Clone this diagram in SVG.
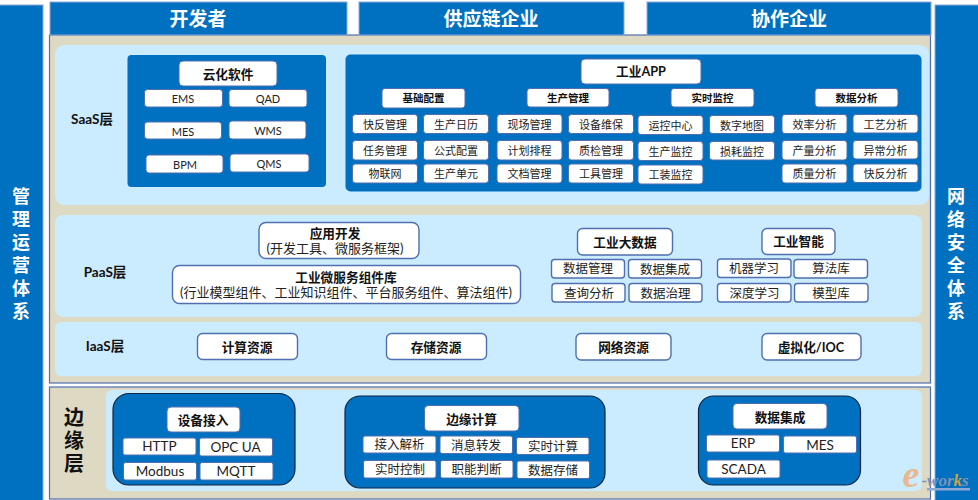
<svg xmlns="http://www.w3.org/2000/svg" width="978" height="500" viewBox="0 0 978 500">
<style>
text{font-family:"Lato","Noto Sans CJK SC",sans-serif;text-anchor:middle;dominant-baseline:central;fill:#111}
.bar{fill:#0070C0;stroke:#8FA9D6;stroke-width:1}
.t{fill:#fff;font-weight:700;font-size:19px}
.v{fill:#fff;font-weight:700;font-size:18px}
.frame{fill:#DDD9C3;stroke:#4F6FB0;stroke-width:1.2}
.panel{fill:#CBEBFE}
.dark{fill:#0070C0}
.darkb{fill:#0070C0;stroke:#10253F;stroke-width:1.2}
.w{fill:#fff;stroke:#4F6FB0;stroke-width:1}
.o{fill:#fff;stroke:#4F6FB0;stroke-width:1.4}
.b{font-weight:700;font-size:12.700px}
.h{font-weight:700;font-size:10.500px}
.c{font-size:11px;fill:#222}
.m{font-size:12.500px;fill:#222}
.n{font-size:13.500px;fill:#222}
.s{font-size:13px;fill:#222}
.l{font-weight:700;font-size:13.500px}
.big{font-weight:700;font-size:20px}
.we{font-family:"Liberation Serif",serif;font-style:italic;font-weight:700;font-size:38px;fill:#E8B88F}
.ww{font-family:"Liberation Serif",serif;font-style:italic;font-weight:700;font-size:17px;fill:#7F93B8}
</style>
<rect width="978" height="500" fill="#fff"/>
<g id="side-left"><rect class="bar" x="-1" y="5" width="44" height="496"/><text class="v" x="21" y="196">管</text><text class="v" x="21" y="219">理</text><text class="v" x="21" y="242">运</text><text class="v" x="21" y="265">营</text><text class="v" x="21" y="288">体</text><text class="v" x="21" y="311">系</text></g>
<g id="side-right"><rect class="bar" x="935" y="5" width="44" height="496"/><text class="v" x="956" y="196">网</text><text class="v" x="956" y="219">络</text><text class="v" x="956" y="242">安</text><text class="v" x="956" y="265">全</text><text class="v" x="956" y="288">体</text><text class="v" x="956" y="311">系</text></g>
<g id="main-frame"><rect class="frame" x="49.500" y="35" width="881" height="348"/></g>
<g id="top-dev"><rect class="bar" x="50" y="2" width="297" height="33"/><text class="t" x="198" y="18">开发者</text></g>
<g id="top-supply"><rect class="bar" x="359" y="2" width="265" height="33"/><text class="t" x="491" y="18">供应链企业</text></g>
<g id="top-partner"><rect class="bar" x="647" y="2" width="284" height="33"/><text class="t" x="789" y="18">协作企业</text></g>

<g id="saas"><rect class="panel" x="55" y="45" width="874" height="160" rx="9"/><text class="l" x="92" y="119">SaaS层</text></g>
<g id="cloud"><rect class="dark" x="127.500" y="55" width="198.500" height="132" rx="4"/>
<rect class="w" x="179" y="61" width="98" height="25" rx="4"/><text class="b" x="228" y="74">云化软件</text></g>
<g id="c-ems"><rect class="w" x="144.500" y="89.500" width="78" height="17.500" rx="3"/><text class="c" x="183" y="98">EMS</text></g>
<g id="c-qad"><rect class="w" x="229" y="89.500" width="78" height="17.500" rx="3"/><text class="c" x="268" y="98">QAD</text></g>
<g id="c-mes"><rect class="w" x="144.500" y="122" width="77" height="17" rx="3"/><text class="c" x="183" y="131">MES</text></g>
<g id="c-wms"><rect class="w" x="229" y="121" width="77" height="18" rx="3"/><text class="c" x="268" y="130">WMS</text></g>
<g id="c-bpm"><rect class="w" x="146" y="155" width="77" height="18" rx="3"/><text class="c" x="185" y="164">BPM</text></g>
<g id="c-qms"><rect class="w" x="230" y="154" width="79" height="18" rx="3"/><text class="c" x="269" y="163">QMS</text></g>

<g id="app"><rect class="dark" x="345.500" y="54.500" width="576" height="137" rx="5"/>
<rect class="w" x="581" y="59" width="120" height="25" rx="4"/><text class="b" x="641" y="71">工业APP</text></g>
<g id="h-base"><rect class="w" x="382" y="88.500" width="83" height="19.500" rx="3"/><text class="h" x="423.500" y="98">基础配置</text></g>
<g id="h-prod"><rect class="w" x="527" y="88.500" width="82" height="18.500" rx="3"/><text class="h" x="568" y="98">生产管理</text></g>
<g id="h-mon"><rect class="w" x="671" y="88.500" width="83" height="18.500" rx="3"/><text class="h" x="712.500" y="98">实时监控</text></g>
<g id="h-data"><rect class="w" x="815" y="88.500" width="83" height="18.500" rx="3"/><text class="h" x="856.500" y="98">数据分析</text></g>

<g id="a1"><rect class="w" x="352.500" y="114.500" width="65" height="19" rx="3"/><text class="c" x="385" y="124">快反管理</text></g>
<g id="a2"><rect class="w" x="423.500" y="114.500" width="65" height="19" rx="3"/><text class="c" x="456" y="124">生产日历</text></g>
<g id="a3"><rect class="w" x="352.500" y="140.500" width="65" height="19.500" rx="3"/><text class="c" x="385" y="150">任务管理</text></g>
<g id="a4"><rect class="w" x="423.500" y="140.500" width="65" height="19.500" rx="3"/><text class="c" x="456" y="150">公式配置</text></g>
<g id="a5"><rect class="w" x="352.500" y="164" width="65" height="19" rx="3"/><text class="c" x="385" y="173.500">物联网</text></g>
<g id="a6"><rect class="w" x="423.500" y="164" width="65" height="19" rx="3"/><text class="c" x="456" y="173.500">生产单元</text></g>
<g id="b1"><rect class="w" x="497" y="114.500" width="65" height="19" rx="3"/><text class="c" x="529.500" y="124">现场管理</text></g>
<g id="b2"><rect class="w" x="568.500" y="114.500" width="65" height="19" rx="3"/><text class="c" x="601" y="124">设备维保</text></g>
<g id="b3"><rect class="w" x="497" y="140.500" width="65" height="19.500" rx="3"/><text class="c" x="529.500" y="150">计划排程</text></g>
<g id="b4"><rect class="w" x="568.500" y="140.500" width="65" height="19.500" rx="3"/><text class="c" x="601" y="150">质检管理</text></g>
<g id="b5"><rect class="w" x="497" y="164" width="65" height="19" rx="3"/><text class="c" x="529.500" y="173.500">文档管理</text></g>
<g id="b6"><rect class="w" x="568.500" y="164" width="65" height="19" rx="3"/><text class="c" x="601" y="173.500">工具管理</text></g>
<g id="d1"><rect class="w" x="638" y="115.500" width="65" height="19" rx="3"/><text class="c" x="670.500" y="125">运控中心</text></g>
<g id="d2"><rect class="w" x="709.500" y="115.500" width="65" height="18" rx="3"/><text class="c" x="742" y="125">数字地图</text></g>
<g id="d3"><rect class="w" x="638" y="141.500" width="65" height="19" rx="3"/><text class="c" x="670.500" y="151">生产监控</text></g>
<g id="d4"><rect class="w" x="709.500" y="141.500" width="65" height="18.500" rx="3"/><text class="c" x="742" y="151">损耗监控</text></g>
<g id="d5"><rect class="w" x="638" y="165" width="65" height="19" rx="3"/><text class="c" x="670.500" y="174.500">工装监控</text></g>
<g id="e1"><rect class="w" x="782" y="114.500" width="65" height="19" rx="3"/><text class="c" x="814.500" y="124">效率分析</text></g>
<g id="e2"><rect class="w" x="853" y="114.500" width="65" height="18.500" rx="3"/><text class="c" x="885.500" y="124">工艺分析</text></g>
<g id="e3"><rect class="w" x="782" y="140.500" width="65" height="19.500" rx="3"/><text class="c" x="814.500" y="150">产量分析</text></g>
<g id="e4"><rect class="w" x="853" y="140.500" width="65" height="18.500" rx="3"/><text class="c" x="885.500" y="150">异常分析</text></g>
<g id="e5"><rect class="w" x="782" y="164" width="65" height="19" rx="3"/><text class="c" x="814.500" y="173.500">质量分析</text></g>
<g id="e6"><rect class="w" x="853" y="164" width="65" height="18.500" rx="3"/><text class="c" x="885.500" y="173.500">快反分析</text></g>

<g id="paas"><rect class="panel" x="55" y="215" width="867" height="102" rx="8"/><text class="l" x="105" y="272">PaaS层</text></g>
<g id="appdev"><rect class="o" x="259" y="222.500" width="160" height="36" rx="7"/><text class="b" x="335" y="233">应用开发</text><text class="s" x="335" y="248">(开发工具、微服务框架)</text></g>
<g id="micro"><rect class="o" x="172.500" y="265.500" width="348" height="38" rx="7"/><text class="b" x="346" y="277">工业微服务组件库</text><text class="s" x="346" y="292">(行业模型组件、工业知识组件、平台服务组件、算法组件)</text></g>
<g id="bigdata"><rect class="o" x="577.500" y="228.500" width="95" height="26.500" rx="5"/><text class="b" x="625" y="242">工业大数据</text></g>
<g id="p1"><rect class="o" x="551.500" y="259.500" width="73" height="18.500" rx="3"/><text class="m" x="588" y="268.500">数据管理</text></g>
<g id="p2"><rect class="o" x="628.500" y="259.500" width="73" height="18.500" rx="3"/><text class="m" x="665" y="269">数据集成</text></g>
<g id="p3"><rect class="o" x="552" y="283.500" width="73" height="18.500" rx="3"/><text class="m" x="589" y="293">查询分析</text></g>
<g id="p4"><rect class="o" x="629" y="283.500" width="73" height="18.500" rx="3"/><text class="m" x="665.500" y="293">数据治理</text></g>
<g id="ai"><rect class="o" x="762" y="228.500" width="73" height="26" rx="5"/><text class="b" x="798.500" y="241">工业智能</text></g>
<g id="q1"><rect class="o" x="717.500" y="259" width="73.500" height="18.500" rx="3"/><text class="m" x="754" y="268.500">机器学习</text></g>
<g id="q2"><rect class="o" x="794" y="259.500" width="73.500" height="18.500" rx="3"/><text class="m" x="831" y="268.500">算法库</text></g>
<g id="q3"><rect class="o" x="717.500" y="283.500" width="73.500" height="18.500" rx="3"/><text class="m" x="754.500" y="293">深度学习</text></g>
<g id="q4"><rect class="o" x="794.500" y="283.500" width="73.500" height="18.500" rx="3"/><text class="m" x="831" y="293">模型库</text></g>

<g id="iaas"><rect class="panel" x="55" y="322" width="867" height="54" rx="6"/><text class="l" x="105" y="346">IaaS层</text></g>
<g id="i1"><rect class="o" x="197.500" y="333.500" width="100" height="26" rx="5"/><text class="b" x="247" y="346.500">计算资源</text></g>
<g id="i2"><rect class="o" x="386.500" y="333.500" width="100" height="26" rx="5"/><text class="b" x="436" y="346.500">存储资源</text></g>
<g id="i3"><rect class="o" x="576" y="333.500" width="95" height="26.500" rx="5"/><text class="b" x="623.500" y="346.500">网络资源</text></g>
<g id="i4"><rect class="o" x="762" y="333.500" width="99" height="26.500" rx="5"/><text class="b" x="811" y="346.500">虚拟化/IOC</text></g>

<g id="edge"><rect class="frame" x="49.500" y="387" width="881" height="112"/><rect class="panel" x="106" y="390" width="816" height="101" rx="6"/><text class="big" x="74" y="417">边</text><text class="big" x="74" y="440">缘</text><text class="big" x="74" y="463">层</text></g>
<g id="device"><rect class="darkb" x="113" y="393.500" width="182" height="91.500" rx="16"/><rect class="w" x="167" y="407" width="73" height="25" rx="4"/><text class="b" x="203" y="420">设备接入</text></g>
<g id="r1"><rect class="w" x="123" y="438" width="73" height="17" rx="2"/><text class="n" x="159.500" y="446">HTTP</text></g>
<g id="r2"><rect class="w" x="199.500" y="438" width="73" height="18" rx="2"/><text class="n" x="235.500" y="447">OPC UA</text></g>
<g id="r3"><rect class="w" x="123.500" y="462.500" width="73" height="17.500" rx="2"/><text class="n" x="160" y="471">Modbus</text></g>
<g id="r4"><rect class="w" x="200" y="462.500" width="73" height="17.500" rx="2"/><text class="n" x="236" y="471">MQTT</text></g>
<g id="edgecalc"><rect class="darkb" x="345" y="396" width="260" height="92" rx="15"/><rect class="w" x="424.500" y="405.500" width="94.500" height="25.500" rx="4"/><text class="b" x="471.500" y="419">边缘计算</text></g>
<g id="s1"><rect class="w" x="363" y="436" width="73" height="17" rx="2"/><text class="m" x="399.500" y="444">接入解析</text></g>
<g id="s2"><rect class="w" x="440" y="436" width="72.500" height="17.500" rx="2"/><text class="m" x="476" y="445">消息转发</text></g>
<g id="s3"><rect class="w" x="516.500" y="437.500" width="72.500" height="17" rx="2"/><text class="m" x="553" y="446">实时计算</text></g>
<g id="s4"><rect class="w" x="363.500" y="460.500" width="72.500" height="17.500" rx="2"/><text class="m" x="400" y="469.500">实时控制</text></g>
<g id="s5"><rect class="w" x="440.500" y="460.500" width="72.500" height="17.500" rx="2"/><text class="m" x="476.500" y="469">职能判断</text></g>
<g id="s6"><rect class="w" x="517" y="461" width="72.500" height="17.500" rx="2"/><text class="m" x="553" y="470">数据存储</text></g>
<g id="dataint"><rect class="darkb" x="698.500" y="396" width="162" height="89" rx="15"/><rect class="w" x="733" y="403.500" width="94" height="25.500" rx="4"/><text class="b" x="780" y="416.500">数据集成</text></g>
<g id="u1"><rect class="w" x="706.500" y="435" width="73" height="17" rx="2"/><text class="n" x="743" y="443">ERP</text></g>
<g id="u2"><rect class="w" x="783.500" y="436" width="73" height="17" rx="2"/><text class="n" x="820" y="444.500">MES</text></g>
<g id="u3"><rect class="w" x="707" y="460" width="73" height="18" rx="2"/><text class="n" x="743.500" y="469">SCADA</text></g>
<g id="watermark"><text class="we" x="911" y="474">e</text><text class="ww" x="945" y="480">-wor<tspan fill="#C9A24A">k</tspan>s</text><rect x="927" y="488" width="43" height="2.500" fill="#8FA9D6"/></g>
</svg>
